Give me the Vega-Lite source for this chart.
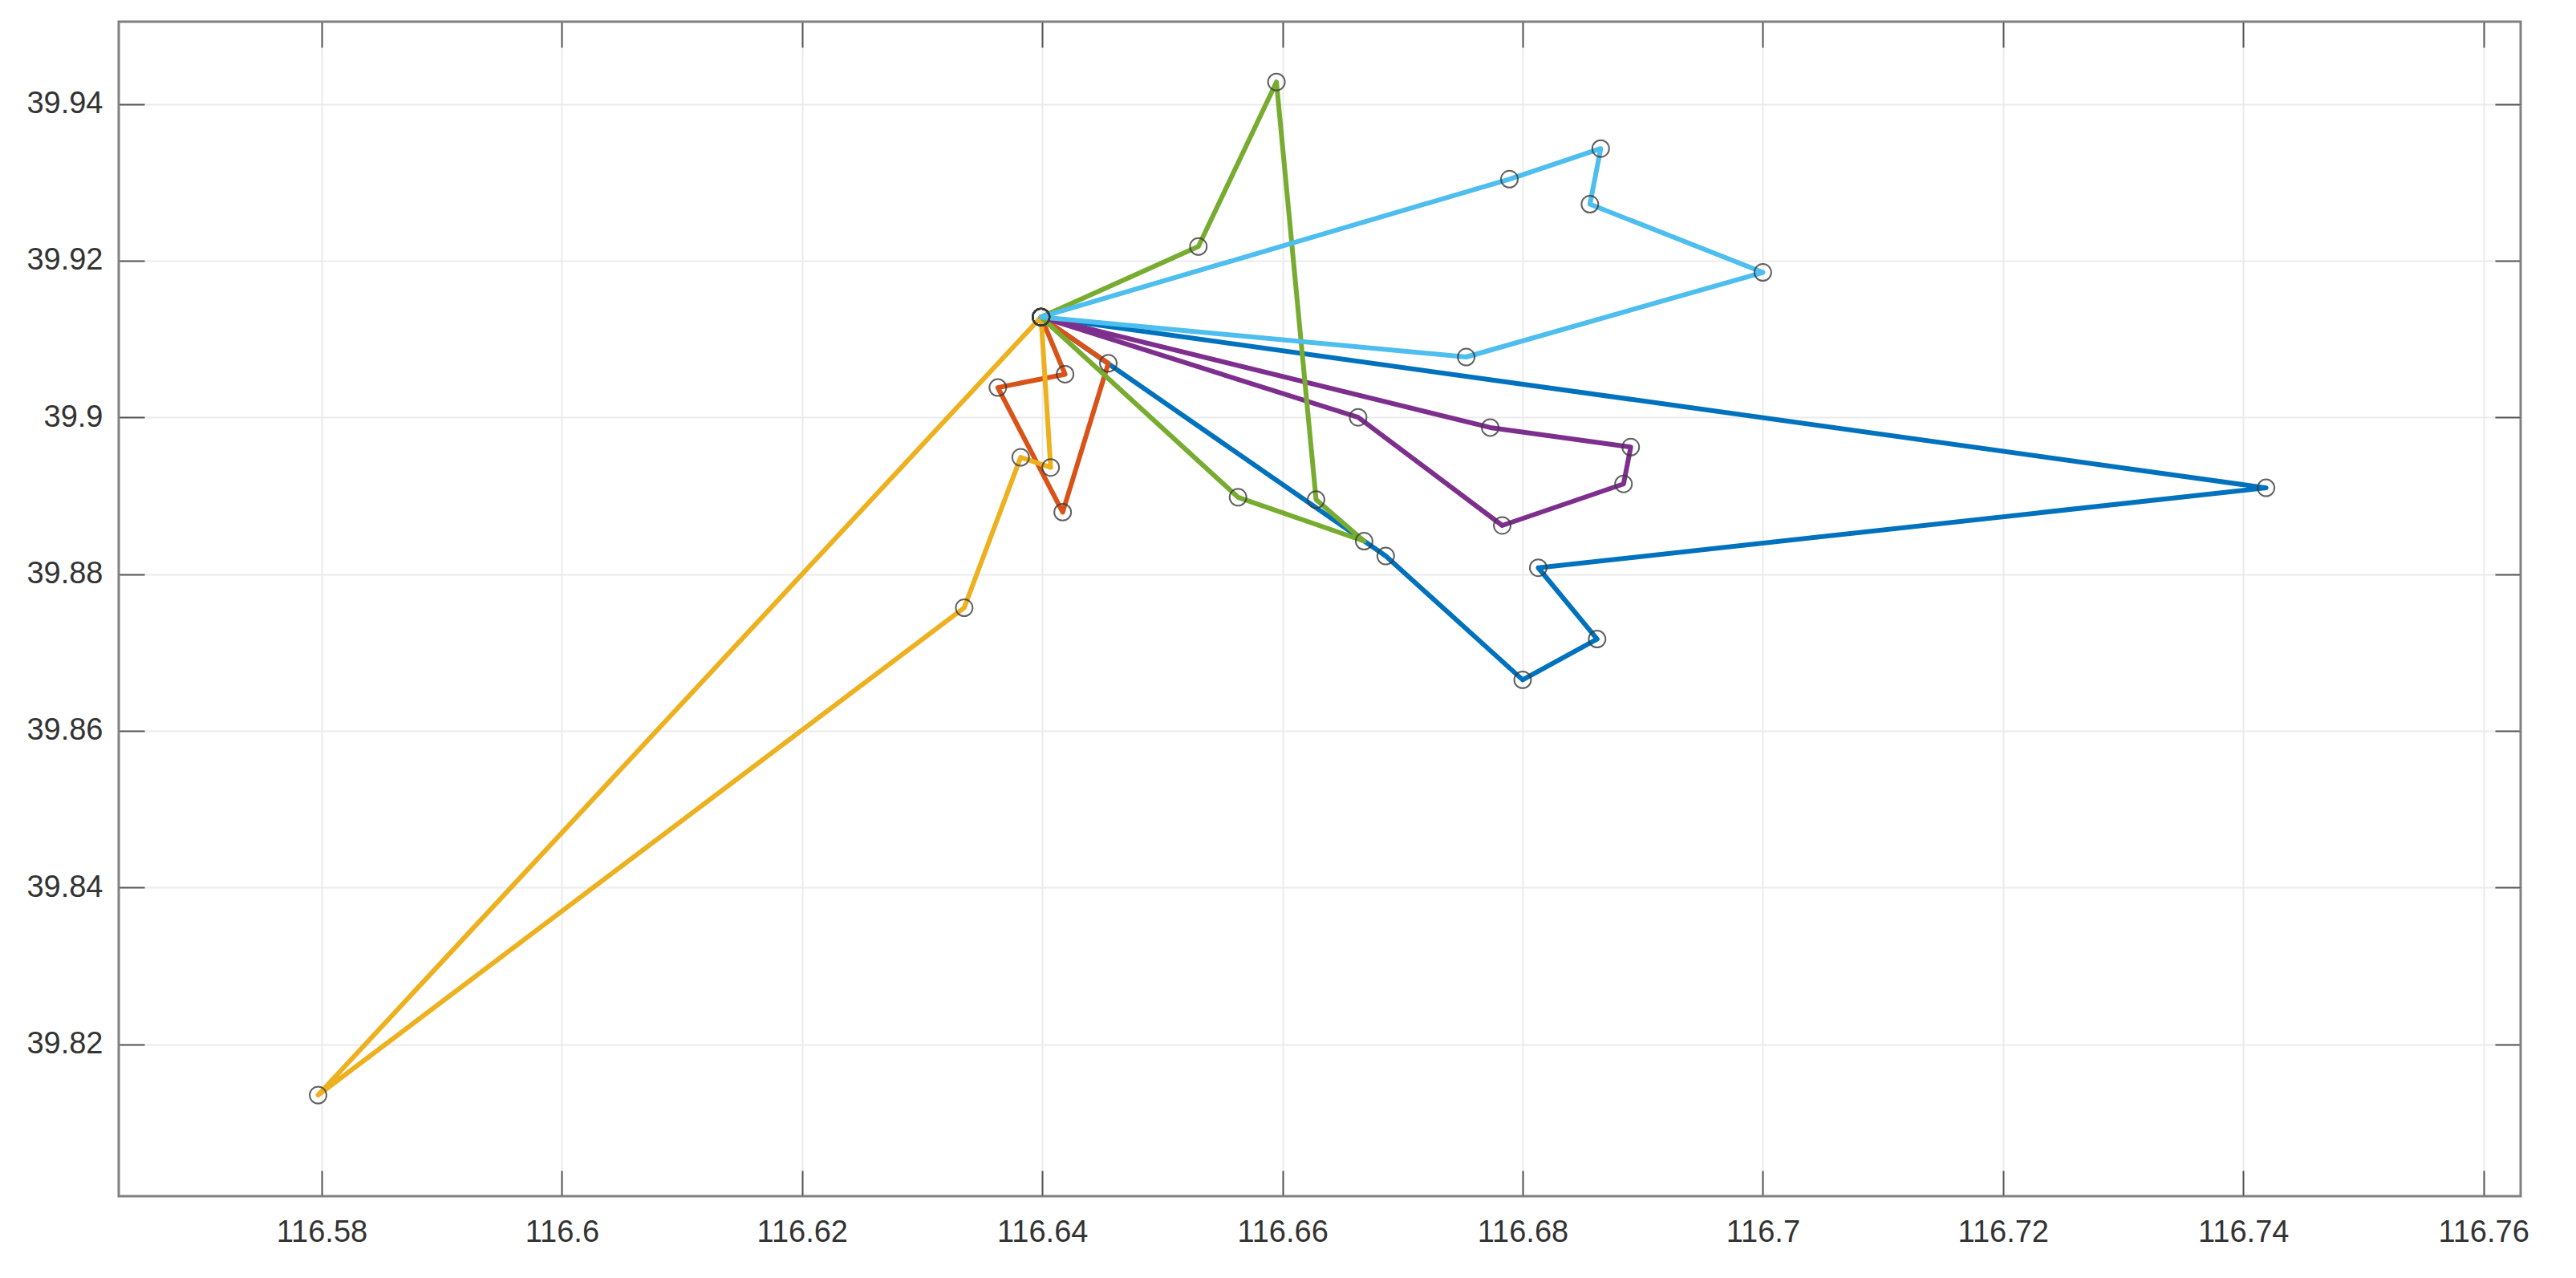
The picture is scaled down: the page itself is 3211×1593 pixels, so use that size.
{
  "$schema": "https://vega.github.io/schema/vega-lite/v6.json",
  "autosize": {"type": "none"},
  "width": 2994,
  "height": 1464,
  "padding": {"left": 148, "top": 27, "right": 69, "bottom": 102},
  "background": "white",
  "config": {
    "view": {"stroke": "#808080", "strokeWidth": 3},
    "axis": {
      "labelFont": "Liberation Sans",
      "labelFontSize": 38,
      "labelColor": "#333333",
      "domain": false,
      "tickColor": "#555555",
      "tickWidth": 2,
      "tickSize": -32,
      "gridColor": "#ebebeb",
      "gridWidth": 2,
      "title": null
    }
  },
  "data": {
    "values": [
      {"route": "1", "seq": 0, "lon": 116.6399, "lat": 39.9128},
      {"route": "1", "seq": 1, "lon": 116.7419, "lat": 39.8910},
      {"route": "1", "seq": 2, "lon": 116.6813, "lat": 39.8808},
      {"route": "1", "seq": 3, "lon": 116.6862, "lat": 39.8717},
      {"route": "1", "seq": 4, "lon": 116.6800, "lat": 39.8665},
      {"route": "1", "seq": 5, "lon": 116.6686, "lat": 39.8823},
      {"route": "1", "seq": 6, "lon": 116.6399, "lat": 39.9128},
      {"route": "2", "seq": 0, "lon": 116.6399, "lat": 39.9128},
      {"route": "2", "seq": 1, "lon": 116.6455, "lat": 39.9069},
      {"route": "2", "seq": 2, "lon": 116.6417, "lat": 39.8879},
      {"route": "2", "seq": 3, "lon": 116.6363, "lat": 39.9038},
      {"route": "2", "seq": 4, "lon": 116.6419, "lat": 39.9055},
      {"route": "2", "seq": 5, "lon": 116.6399, "lat": 39.9128},
      {"route": "3", "seq": 0, "lon": 116.6399, "lat": 39.9128},
      {"route": "3", "seq": 1, "lon": 116.6407, "lat": 39.8936},
      {"route": "3", "seq": 2, "lon": 116.6382, "lat": 39.8949},
      {"route": "3", "seq": 3, "lon": 116.6335, "lat": 39.8757},
      {"route": "3", "seq": 4, "lon": 116.5797, "lat": 39.8135},
      {"route": "3", "seq": 5, "lon": 116.6399, "lat": 39.9128},
      {"route": "4", "seq": 0, "lon": 116.6399, "lat": 39.9128},
      {"route": "4", "seq": 1, "lon": 116.6773, "lat": 39.8987},
      {"route": "4", "seq": 2, "lon": 116.6890, "lat": 39.8962},
      {"route": "4", "seq": 3, "lon": 116.6884, "lat": 39.8915},
      {"route": "4", "seq": 4, "lon": 116.6783, "lat": 39.8862},
      {"route": "4", "seq": 5, "lon": 116.6663, "lat": 39.9000},
      {"route": "4", "seq": 6, "lon": 116.6399, "lat": 39.9128},
      {"route": "5", "seq": 0, "lon": 116.6399, "lat": 39.9128},
      {"route": "5", "seq": 1, "lon": 116.6530, "lat": 39.9218},
      {"route": "5", "seq": 2, "lon": 116.6595, "lat": 39.9428},
      {"route": "5", "seq": 3, "lon": 116.6628, "lat": 39.8895},
      {"route": "5", "seq": 4, "lon": 116.6668, "lat": 39.8842},
      {"route": "5", "seq": 5, "lon": 116.6563, "lat": 39.8898},
      {"route": "5", "seq": 6, "lon": 116.6399, "lat": 39.9128},
      {"route": "6", "seq": 0, "lon": 116.6399, "lat": 39.9128},
      {"route": "6", "seq": 1, "lon": 116.6789, "lat": 39.9304},
      {"route": "6", "seq": 2, "lon": 116.6865, "lat": 39.9343},
      {"route": "6", "seq": 3, "lon": 116.6856, "lat": 39.9272},
      {"route": "6", "seq": 4, "lon": 116.7000, "lat": 39.9185},
      {"route": "6", "seq": 5, "lon": 116.6753, "lat": 39.9077},
      {"route": "6", "seq": 6, "lon": 116.6399, "lat": 39.9128}
    ]
  },
  "layer": [
    {
      "layer": [
        {
          "mark": {"type": "line", "strokeWidth": 6, "strokeJoin": "round", "strokeCap": "round"},
          "encoding": {
            "x": {"field": "lon", "type": "quantitative",
                  "scale": {"domain": [116.5631, 116.7631], "zero": false, "nice": false},
                  "axis": {"values": [116.58, 116.6, 116.62, 116.64, 116.66, 116.68, 116.7, 116.72, 116.74, 116.76], "format": ".2~f", "labelPadding": 58, "orient": "bottom"}},
            "y": {"field": "lat", "type": "quantitative",
                  "scale": {"domain": [39.8006, 39.9505], "zero": false, "nice": false},
                  "axis": {"values": [39.82, 39.84, 39.86, 39.88, 39.9, 39.92, 39.94], "format": ".2~f", "labelPadding": 52, "orient": "left"}},
            "color": {"field": "route", "type": "nominal", "legend": null,
                      "scale": {"domain": ["1", "2", "3", "4", "5", "6"],
                                "range": ["#0072BD", "#D95319", "#EDB120", "#7E2F8E", "#77AC30", "#4DBEEE"]}},
            "order": {"field": "seq", "type": "quantitative"}
          }
        },
        {
          "mark": {"type": "point", "shape": "circle", "filled": false, "size": 440, "stroke": "#3a3a3a", "strokeWidth": 2, "opacity": 0.8},
          "encoding": {
            "x": {"field": "lon", "type": "quantitative"},
            "y": {"field": "lat", "type": "quantitative"}
          }
        }
      ]
    },
    {
      "mark": {"type": "point", "opacity": 0},
      "encoding": {
        "x": {"field": "lon", "type": "quantitative",
              "scale": {"domain": [116.5631, 116.7631], "zero": false, "nice": false},
              "axis": {"orient": "top", "values": [116.58, 116.6, 116.62, 116.64, 116.66, 116.68, 116.7, 116.72, 116.74, 116.76], "labels": false, "grid": false}},
        "y": {"field": "lat", "type": "quantitative",
              "scale": {"domain": [39.8006, 39.9505], "zero": false, "nice": false},
              "axis": {"orient": "right", "values": [39.82, 39.84, 39.86, 39.88, 39.9, 39.92, 39.94], "labels": false, "grid": false}}
      }
    }
  ],
  "resolve": {"scale": {"x": "independent", "y": "independent"}}
}
